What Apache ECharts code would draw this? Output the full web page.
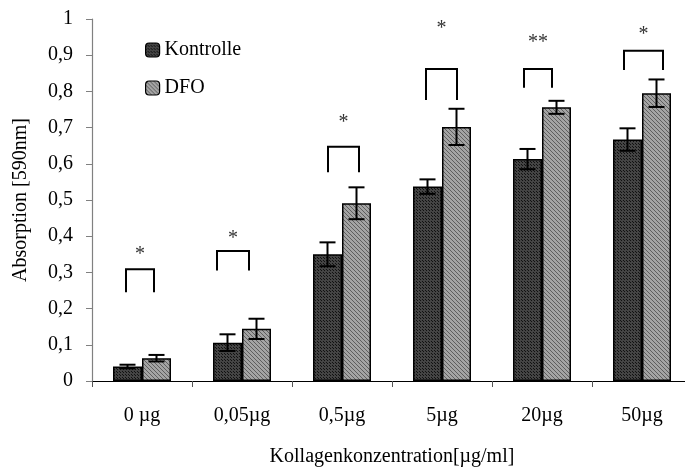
<!DOCTYPE html>
<html>
<head>
<meta charset="utf-8">
<script src="https://cdn.jsdelivr.net/npm/echarts@6/dist/echarts.min.js"></script>
<style>html,body{margin:0;padding:0;background:#fff}#c{width:685px;height:469px}</style>
</head>
<body>
<div id="c"></div>
<script>
// ---- data ----
const categories = ['0 µg', '0,05µg', '0,5µg', '5µg', '20µg', '50µg'];
const seriesNames = ['Kontrolle', 'DFO'];
const kontrolleMean = [0.040, 0.106, 0.350, 0.537, 0.613, 0.667];
const kontrolleErr  = [0.005, 0.023, 0.033, 0.020, 0.028, 0.031];
const dfoMean = [0.063, 0.144, 0.491, 0.702, 0.756, 0.795];
const dfoErr  = [0.009, 0.028, 0.044, 0.050, 0.018, 0.038];
const yTicks = [0, 0.1, 0.2, 0.3, 0.4, 0.5, 0.6, 0.7, 0.8, 0.9, 1];
// significance annotations (value units)
const sigLabels = ['*', '*', '*', '*', '**', '*'];
const bracketTop = [0.309, 0.359, 0.647, 0.862, 0.862, 0.912];
const bracketLeg = [0.245, 0.305, 0.577, 0.776, 0.810, 0.859];
const starLevel  = [0.362, 0.406, 0.727, 0.988, 0.949, 0.970];
const bracketLeft  = [-0.16, -0.25, -0.14, -0.16, -0.18, -0.18];
const bracketRight = [0.12, 0.07, 0.17, 0.15, 0.10, 0.21];

// ---- styles ----
const FONT = "'Liberation Serif', 'Times New Roman', serif";
const FS = 20;
const BAR_W = 29;

function makePattern(kind) {
  const c = document.createElement('canvas');
  if (kind === 'dots') {
    c.width = 3; c.height = 3;
    const g = c.getContext('2d');
    g.fillStyle = '#444'; g.fillRect(0, 0, 3, 3);
    g.fillStyle = '#111'; g.fillRect(0, 0, 1, 1); g.fillRect(2, 2, 1, 1);
  } else {
    c.width = 4; c.height = 4;
    const g = c.getContext('2d');
    g.fillStyle = '#a4a4a4'; g.fillRect(0, 0, 4, 4);
    g.fillStyle = '#5e5e5e';
    for (let i = 0; i < 4; i++) g.fillRect(i, i, 1, 1);
  }
  return { image: c, repeat: 'repeat' };
}
const colK = makePattern('dots');
const colD = makePattern('hatch');

const errData = [];
kontrolleMean.forEach((m, i) => errData.push([i, m, kontrolleErr[i], -1]));
dfoMean.forEach((m, i) => errData.push([i, m, dfoErr[i], 1]));

const sigData = categories.map((c, i) => [i, bracketTop[i], bracketLeg[i], starLevel[i], bracketLeft[i], bracketRight[i], sigLabels[i]]);

const chart = echarts.init(document.getElementById('c'), null, { renderer: 'canvas' });
chart.setOption({
  animation: false,
  backgroundColor: '#fff',
  textStyle: { fontFamily: FONT },
  grid: { left: 92, top: 19, bottom: 88, width: 600, containLabel: false, outerBoundsMode: 'none' },
  legend: {
    orient: 'vertical', left: 145, top: 40, padding: 0,
    itemWidth: 14, itemHeight: 14, itemGap: 18,
    data: seriesNames,
    textStyle: { fontFamily: FONT, fontSize: FS, color: '#000' },
    itemStyle: { borderColor: '#000', borderWidth: 1.2 }
  },
  xAxis: {
    type: 'category', data: categories,
    name: 'Kollagenkonzentration[µg/ml]', nameLocation: 'middle', nameGap: 66,
    nameTextStyle: { fontFamily: FONT, fontSize: FS, color: '#000' },
    axisLine: { lineStyle: { color: '#000', width: 1.2 } },
    axisTick: { show: true, length: 6, lineStyle: { color: '#555' } },
    axisLabel: { fontFamily: FONT, fontSize: FS, color: '#000', margin: 25 },
    splitLine: { show: false }
  },
  yAxis: {
    type: 'value', min: 0, max: 1, interval: 0.1,
    name: 'Absorption [590nm]', nameLocation: 'middle', nameGap: 61, nameRotate: 90,
    nameTextStyle: { fontFamily: FONT, fontSize: FS, color: '#000' },
    axisLine: { show: true, lineStyle: { color: '#808080', width: 1.2 } },
    axisTick: { show: true, length: 6, lineStyle: { color: '#808080' } },
    axisLabel: {
      fontFamily: FONT, fontSize: FS, color: '#000', margin: 19,
      formatter: v => String(Math.round(v * 10) / 10).replace('.', ',')
    },
    splitLine: { show: false }
  },
  series: [
    {
      name: seriesNames[0], type: 'bar', data: kontrolleMean, barWidth: BAR_W, barGap: '0%',
      itemStyle: { color: colK, borderColor: '#000', borderWidth: 1.5 }
    },
    {
      name: seriesNames[1], type: 'bar', data: dfoMean, barWidth: BAR_W, barGap: '0%',
      itemStyle: { color: colD, borderColor: '#000', borderWidth: 1.5 }
    },
    {
      type: 'custom', name: 'err', data: errData, z: 10, silent: true,
      renderItem: (params, api) => {
        const cat = api.value(0), m = api.value(1), e = api.value(2), side = api.value(3);
        const top = api.coord([cat, m + e]);
        const bot = api.coord([cat, m - e]);
        const x = top[0] + side * BAR_W / 2;
        const cap = 8;
        const st = { stroke: '#000', lineWidth: 2 };
        return {
          type: 'group', children: [
            { type: 'line', shape: { x1: x, y1: top[1], x2: x, y2: bot[1] }, style: st },
            { type: 'line', shape: { x1: x - cap, y1: top[1], x2: x + cap, y2: top[1] }, style: st },
            { type: 'line', shape: { x1: x - cap, y1: bot[1], x2: x + cap, y2: bot[1] }, style: st }
          ]
        };
      }
    },
    {
      type: 'custom', name: 'sig', data: sigData, z: 10, silent: true,
      renderItem: (params, api) => {
        const d = sigData[params.dataIndex];
        const cat = d[0];
        const pTop = api.coord([cat, d[1]]);
        const pLeg = api.coord([cat, d[2]]);
        const pStar = api.coord([cat, d[3]]);
        const cw = api.size([1, 0])[0];
        const xl = pTop[0] + d[4] * cw, xr = pTop[0] + d[5] * cw;
        const st = { stroke: '#000', lineWidth: 2, fill: null };
        return {
          type: 'group', children: [
            { type: 'polyline', shape: { points: [[xl, pLeg[1]], [xl, pTop[1]], [xr, pTop[1]], [xr, pLeg[1]]] }, style: st },
            { type: 'text', x: (xl + xr) / 2, y: pStar[1] + 5, style: { text: d[6], font: FS + 'px ' + FONT, fill: '#333', align: 'center', verticalAlign: 'middle' } }
          ]
        };
      }
    }
  ]
});
</script>
</body>
</html>
